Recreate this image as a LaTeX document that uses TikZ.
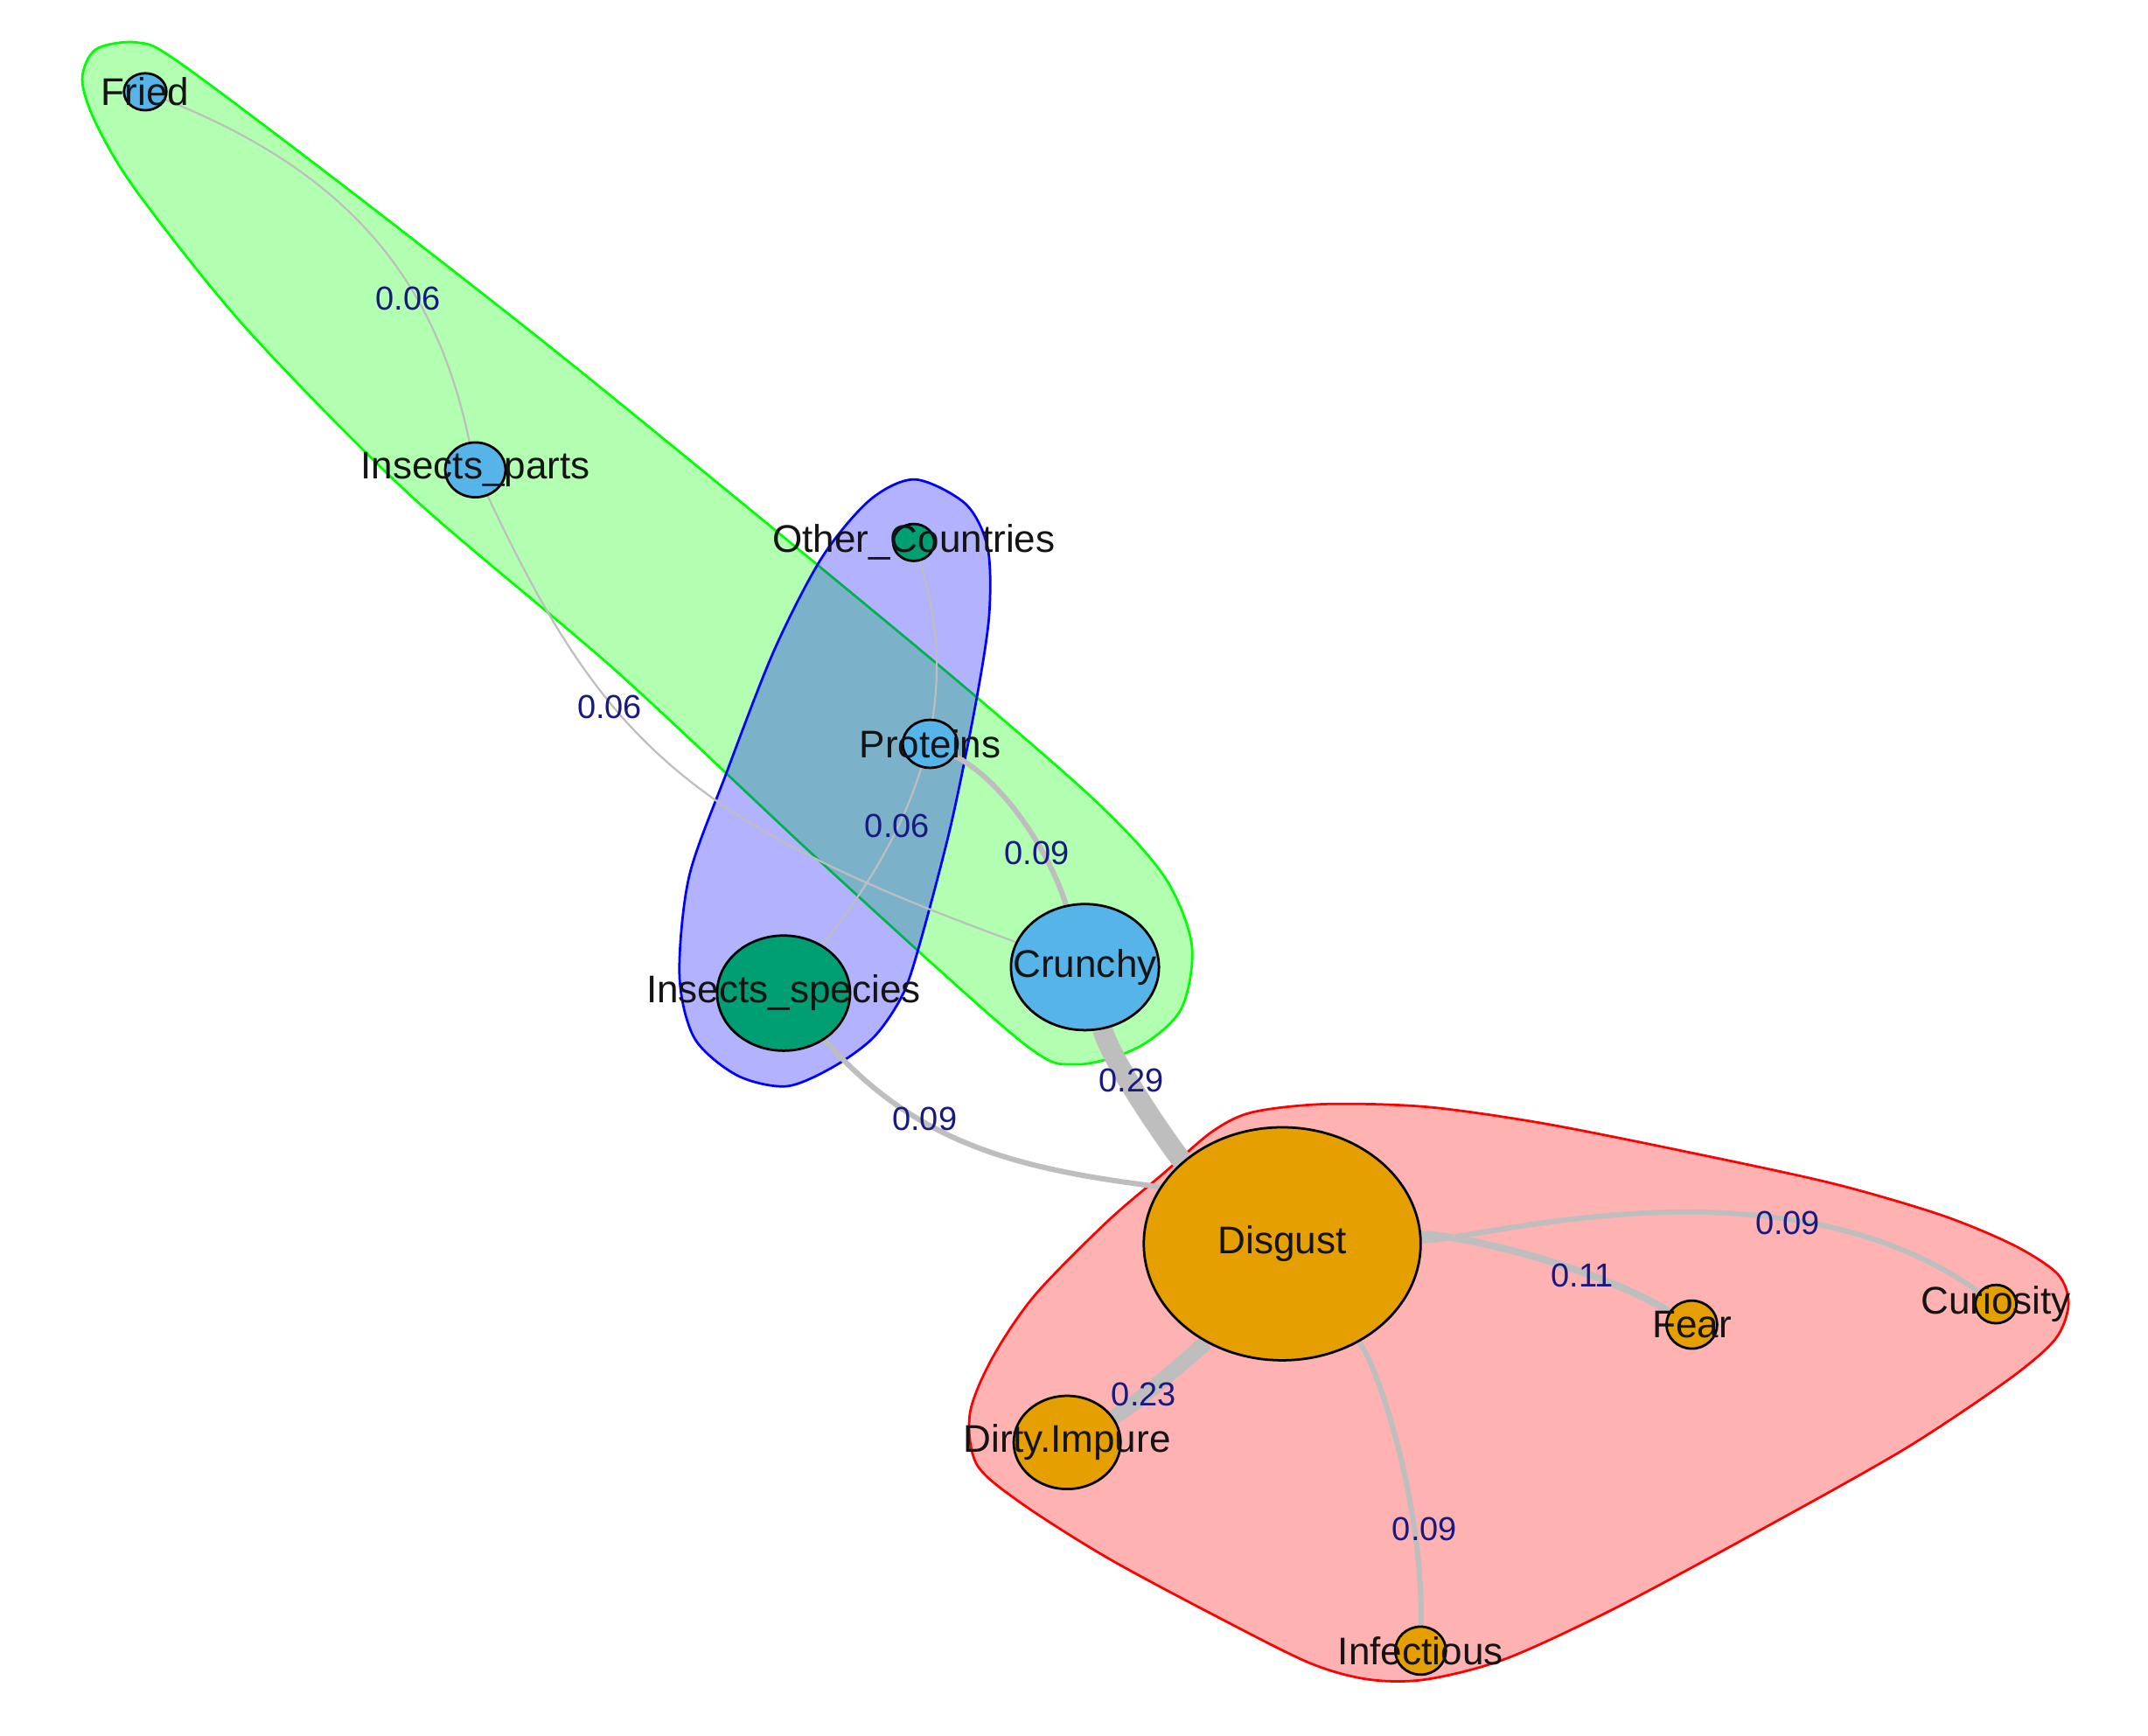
\documentclass[tikz,border=0pt]{standalone}
\usepackage{fontspec}
\setmainfont{Liberation Sans}
\usetikzlibrary{shapes.geometric}

\definecolor{skyb}{HTML}{56B4E9}
\definecolor{bgreen}{HTML}{009E73}
\definecolor{orng}{HTML}{E69F00}
\definecolor{linkgray}{HTML}{BEBEBE}
\definecolor{wcol}{RGB}{25,25,130}
\definecolor{vcol}{RGB}{20,20,20}
\definecolor{hullgreen}{RGB}{0,255,0}
\definecolor{hullblue}{RGB}{0,0,255}
\definecolor{hullred}{RGB}{255,0,0}

\pgfdeclarelayer{hulls}
\pgfdeclarelayer{links}
\pgfsetlayers{hulls,links,main}

\tikzset{
	vtx/.style n args = {3}{ellipse, draw = black, line width = 0.5pt, inner sep = 0pt, fill = #1, minimum width = #2, minimum height = #3},
	every label/.style = {text = vcol, font = \fontsize{8}{9.6}\selectfont, inner sep = 0pt},
	link/.style = {draw = linkgray, line width = #1},
	wlab/.style = {text = wcol, font = \fontsize{6.9}{8}\selectfont, inner sep = 0pt},
	hull/.style = {draw = #1, line width = 0.5pt, fill = #1, fill opacity = 0.3}
}

\begin{document}
\begin{tikzpicture}[x = 0.01cm, y = -0.01cm]

	\useasboundingbox (0, 0) rectangle (1568, 1267);

	% groups
	\begin{pgfonlayer}{hulls}
		\draw [hull = hullgreen] plot [smooth cycle] coordinates {(70, 36) (100, 31) (130, 45) (250, 135) (400, 252) (550, 374) (700, 498)
			(800, 585) (850, 640) (870, 690) (862, 737) (830, 765) (785, 777) (745, 760) (600, 630) (450, 490) (300, 362) (180, 240)
			(100, 140) (70, 90) (60, 58)};
		\draw [hull = hullblue] plot [smooth cycle] coordinates {(668, 350) (705, 368) (721, 400) (722, 450) (712, 515) (694, 603) (672, 687)
			(659, 726) (638, 757) (608, 779) (574, 793) (538, 785) (507, 758) (496, 712) (503, 640) (530, 565) (565, 475) (600, 407)
			(635, 365)};
		\draw [hull = hullred] plot [smooth cycle] coordinates {(914, 812) (967, 806) (1041, 808) (1126, 820) (1232, 841) (1338, 864)
			(1417, 887) (1470, 909) (1502, 930) (1510, 952) (1500, 978) (1465, 1008) (1390, 1058) (1285, 1117) (1179, 1174) (1099, 1211)
			(1041, 1226) (999, 1226) (956, 1214) (888, 1180) (808, 1137) (745, 1097) (713, 1069) (708, 1032) (724, 992) (755, 946)
			(808, 892) (850, 856) (885, 826)};
	\end{pgfonlayer}

	% vertices
	\node [vtx = {skyb}{0.31cm}{0.27cm}, label = center:Fried] (fr) at (106, 67) {};
	\node [vtx = {skyb}{0.44cm}{0.40cm}, label = center:Insects\_parts] (ip) at (347, 343) {};
	\node [vtx = {bgreen}{0.30cm}{0.27cm}, label = center:Other\_Countries] (oc) at (667, 396) {};
	\node [vtx = {skyb}{0.40cm}{0.35cm}, label = center:Proteins] (pr) at (679, 543) {};
	\node [vtx = {skyb}{1.08cm}{0.92cm}, label = center:Crunchy] (cr) at (792, 706) {};
	\node [vtx = {bgreen}{0.97cm}{0.84cm}, label = center:Insects\_species] (is) at (572, 725) {};
	\node [vtx = {orng}{2.02cm}{1.70cm}, label = center:Disgust] (dg) at (936, 908) {};
	\node [vtx = {orng}{0.37cm}{0.35cm}, label = center:Fear] (fe) at (1235, 967) {};
	\node [vtx = {orng}{0.30cm}{0.28cm}, label = center:Curiosity] (cu) at (1457, 952) {};
	\node [vtx = {orng}{0.78cm}{0.68cm}, label = center:Dirty.Impure] (dp) at (779, 1053) {};
	\node [vtx = {orng}{0.37cm}{0.35cm}, label = center:Infectious] (inf) at (1037, 1205) {};

	% weighted links
	\begin{pgfonlayer}{links}
		\draw [link = 0.4pt] (fr) .. controls (265, 130) and (320, 215) .. (ip);
		\draw [link = 0.4pt] (ip) .. controls (440, 540) and (500, 600) .. (cr);
		\draw [link = 0.4pt] (oc) .. controls (700, 500) and (680, 590) .. (is);
		\draw [link = 1.1pt] (pr) .. controls (733, 570) and (767, 624) .. (cr);
		\draw [link = 4.2pt] (cr) .. controls (812, 777) and (860, 845) .. (dg);
		\draw [link = 1.1pt] (is) .. controls (668, 834) and (739, 853) .. (dg.155);
		\draw [link = 3.2pt] (dg) .. controls (884, 976) and (832, 1024) .. (dp);
		\draw [link = 1.5pt] (dg) .. controls (1055, 900) and (1155, 920) .. (fe);
		\draw [link = 1.1pt] (dg) .. controls (1080, 905) and (1300, 840) .. (cu);
		\draw [link = 1.1pt] (dg) .. controls (1005, 996) and (1039, 1095) .. (inf);

		\node [wlab] (wfrip) at (298, 218) {0.06};
		\node [wlab] (wipcr) at (445, 516) {0.06};
		\node [wlab] (wocis) at (655, 603) {0.06};
		\node [wlab] (wprcr) at (757, 623) {0.09};
		\node [wlab] (wcrdg) at (826, 789) {0.29};
		\node [wlab] (wisdg) at (675, 817) {0.09};
		\node [wlab] (wdgdp) at (835, 1018) {0.23};
		\node [wlab] (wdgfe) at (1155, 931) {0.11};
		\node [wlab] (wdgcu) at (1305, 893) {0.09};
		\node [wlab] (wdginf) at (1040, 1116) {0.09};
	\end{pgfonlayer}

\end{tikzpicture}
\end{document}
